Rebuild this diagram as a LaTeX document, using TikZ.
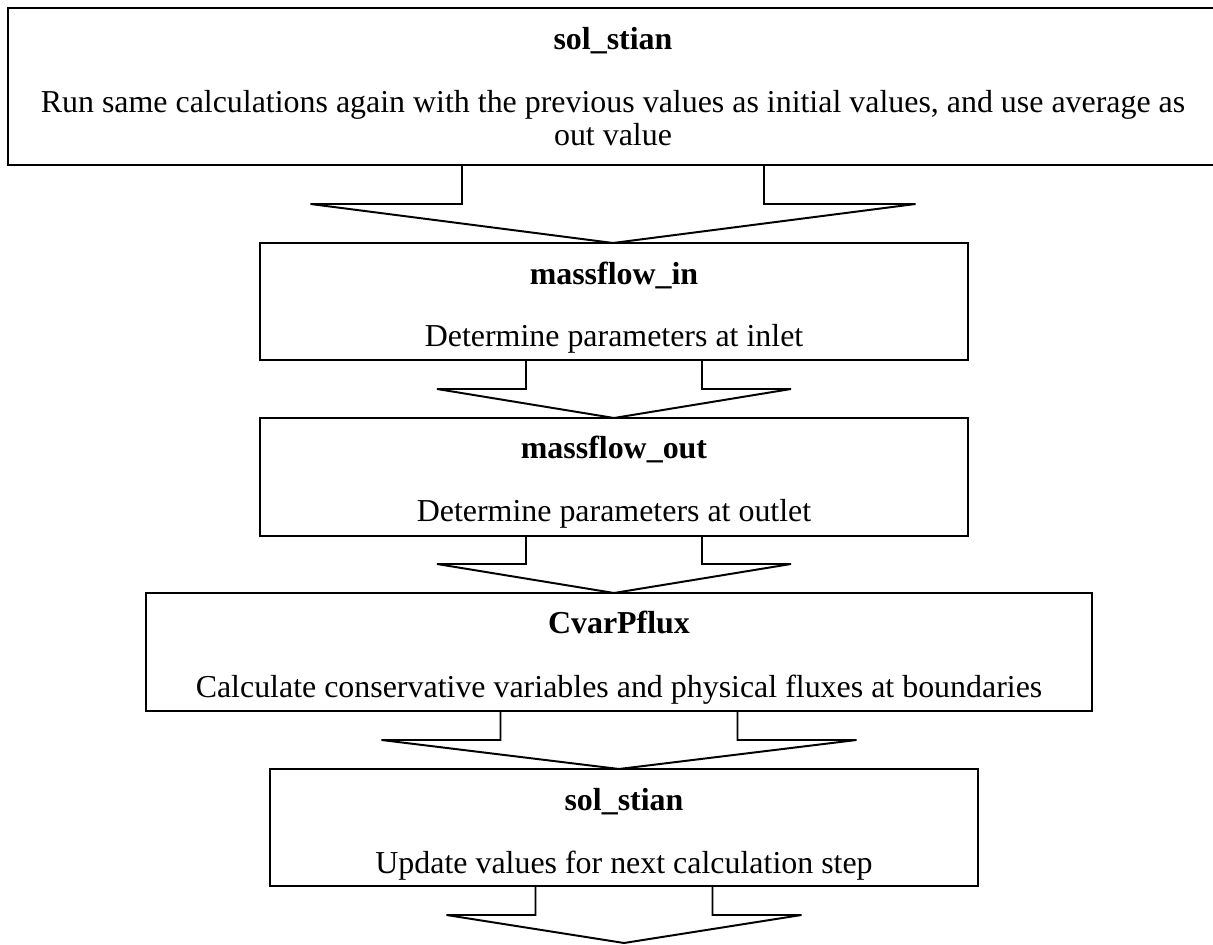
\documentclass[tikz,border=0pt]{standalone}
\usepackage{fontspec}
\setmainfont{Liberation Serif}
\usetikzlibrary{calc}
\newlength\pxu
\setlength\pxu{0.025cm}
\newcommand{\flowfont}{\fontsize{22.7}{24.1}\selectfont}
\newcommand{\blockarrow}[5]{%
  \draw[flow] ($(#1.south)+(-#3,0)$) -- ++(0,#5) -- ++(#3-#4,0) -- (#1.south |- #2)
    -- ($(#1.south)+(#4,#5)$) -- ++(#3-#4,0) -- ++(0,-#5);}
\begin{document}
\begin{tikzpicture}[
   x=0.025cm,y=-0.025cm,
   box/.style={draw,line width=1.4pt,inner sep=0pt,outer sep=0pt},
   flow/.style={line width=1.4pt,line join=miter},
   head/.style={anchor=base,font=\flowfont\bfseries},
   body/.style={anchor=base,font=\flowfont,align=center}
 ]
  \useasboundingbox (0,0) rectangle (1213,945);
  \clip (0,0) rectangle (1213,945);

  \node[box,minimum width=1210\pxu,minimum height=157\pxu] (rerun) at (613,86.5) {};
  \node[head] (rerun-t) at (613,50) {sol\_stian};
  \node[body] (rerun-d) at (613,146) {Run same calculations again with the previous values as initial values, and use average as\\out value};

  \node[box,minimum width=708\pxu,minimum height=117\pxu] (mfin) at (614,301.5) {};
  \node[head] (mfin-t) at (614,285) {massflow\_in};
  \node[body] (mfin-d) at (614,347) {Determine parameters at inlet};

  \node[box,minimum width=708\pxu,minimum height=118\pxu] (mfout) at (614,477) {};
  \node[head] (mfout-t) at (614,459) {massflow\_out};
  \node[body] (mfout-d) at (614,522) {Determine parameters at outlet};

  \node[box,minimum width=946\pxu,minimum height=118\pxu] (cvar) at (619,652) {};
  \node[head] (cvar-t) at (619,633) {CvarPflux};
  \node[body] (cvar-d) at (619,697) {Calculate conservative variables and physical fluxes at boundaries};

  \node[box,minimum width=708\pxu,minimum height=117\pxu] (update) at (624,827.5) {};
  \node[head] (update-t) at (624,810) {sol\_stian};
  \node[body] (update-d) at (624,873) {Update values for next calculation step};
  \coordinate (end) at (624,943);

  \blockarrow{rerun}{mfin.north}{151}{302.5}{39}
  \blockarrow{mfin}{mfout.north}{88}{177}{29}
  \blockarrow{mfout}{cvar.north}{88}{177}{28}
  \blockarrow{cvar}{update.north}{118.5}{237.5}{29}
  \blockarrow{update}{end}{88.5}{177.5}{29}
 \end{tikzpicture}
\end{document}
